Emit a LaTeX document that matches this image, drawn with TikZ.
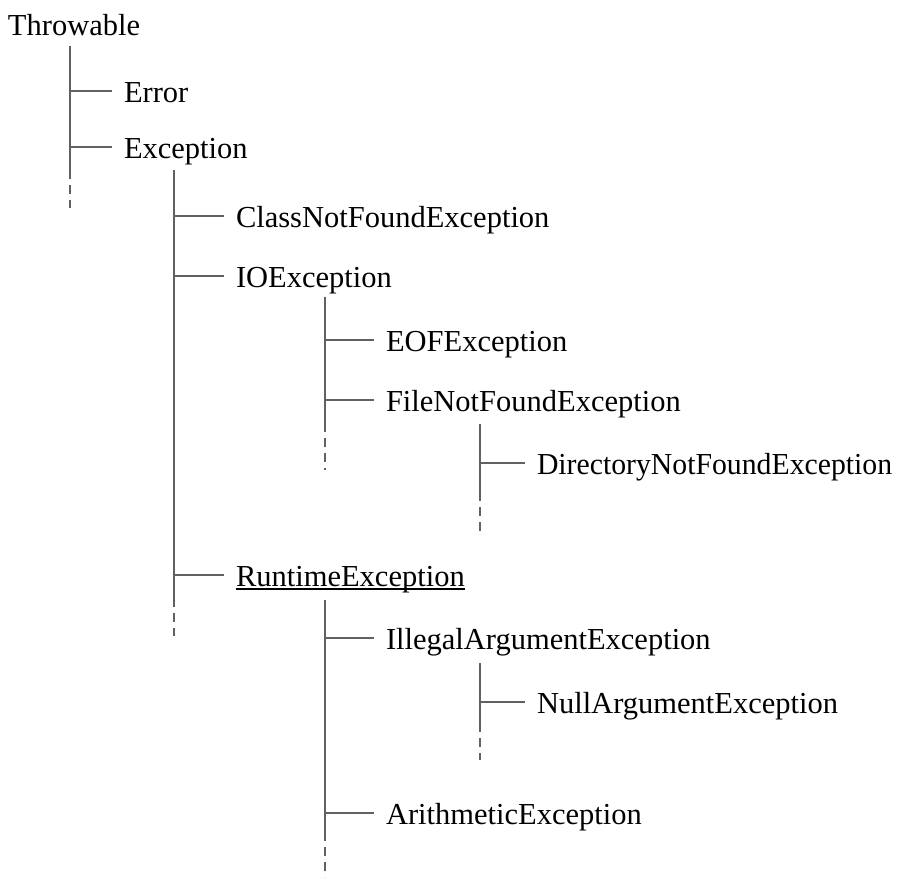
\documentclass[tikz,border=0pt]{standalone}
\usepackage{fontspec}
\usepackage{graphicx}
\setmainfont{Liberation Serif}
\begin{document}
\begin{tikzpicture}[x=1pt,y=-1pt,
  cls/.style={anchor=base west,inner sep=0pt,outer sep=0pt,
    font=\fontsize{30.5}{36}\selectfont},
  spine/.style={draw=black!62,line width=1.4pt},
  tail/.style={draw=black!62,line width=1.4pt,dash pattern=on 9pt off 6pt},
  branch/.style={draw=black!62,line width=1.4pt}]
\useasboundingbox (0,0) rectangle (901,878);

% class names (base line 11.5 below each branch)
\node[cls] (thr)  at (8,35)      {Throwable};
\node[cls] (err)  at (124,102.5) {Error};
\node[cls] (exc)  at (124,158.5) {Exception};
\node[cls] (cnf)  at (236,227.5) {ClassNotFoundException};
\node[cls] (io)   at (236,287.5) {IOException};
\node[cls] (eof)  at (386,351.5) {EOFException};
\node[cls] (fnf)  at (386,411.5) {FileNotFoundException};
\node[cls] (dnf)  at (537,474.5) {\scalebox{0.975}[1]{DirectoryNotFoundException}};
\node[cls] (rt)   at (236,586.5) {RuntimeException};
\node[cls] (iae)  at (386,649.5) {IllegalArgumentException};
\node[cls] (nae)  at (537,713.5) {NullArgumentException};
\node[cls] (ari)  at (386,824.5) {ArithmeticException};

% underline of RuntimeException
\draw[line width=2pt] ([yshift=-2.5pt]rt.base west) -- ([yshift=-2.5pt]rt.base east);

% spine tops, ends of the solid parts, ends of the dashed tails
\coordinate (thr-top) at (70,46);   \coordinate (thr-end) at (70,170); \coordinate (thr-tail) at (70,208);
\coordinate (exc-top) at (174,170); \coordinate (exc-end) at (174,598); \coordinate (exc-tail) at (174,636);
\coordinate (io-top)  at (325,297); \coordinate (io-end)  at (325,423); \coordinate (io-tail)  at (325,470);
\coordinate (fnf-top) at (480,424); \coordinate (fnf-end) at (480,492); \coordinate (fnf-tail) at (480,535);
\coordinate (rt-top)  at (325,600); \coordinate (rt-end)  at (325,832); \coordinate (rt-tail)  at (325,877);
\coordinate (iae-top) at (480,663); \coordinate (iae-end) at (480,723); \coordinate (iae-tail) at (480,760);

% spines
\foreach \s in {thr,exc,io,fnf,rt,iae}{
  \draw[spine] (\s-top) -- (\s-end);
  \draw[tail] (\s-end) -- (\s-tail);
}

% branches: from the parent's spine to each child
\foreach \p/\c in {thr/err,thr/exc,exc/cnf,exc/io,exc/rt,io/eof,io/fnf,
                   fnf/dnf,rt/iae,rt/ari,iae/nae}{
  \coordinate (\c-joint) at ([shift={(-12,-11.5)}]\c.base west);
  \draw[branch] (\p-top |- \c-joint) -- (\c-joint);
}
\end{tikzpicture}
\end{document}
